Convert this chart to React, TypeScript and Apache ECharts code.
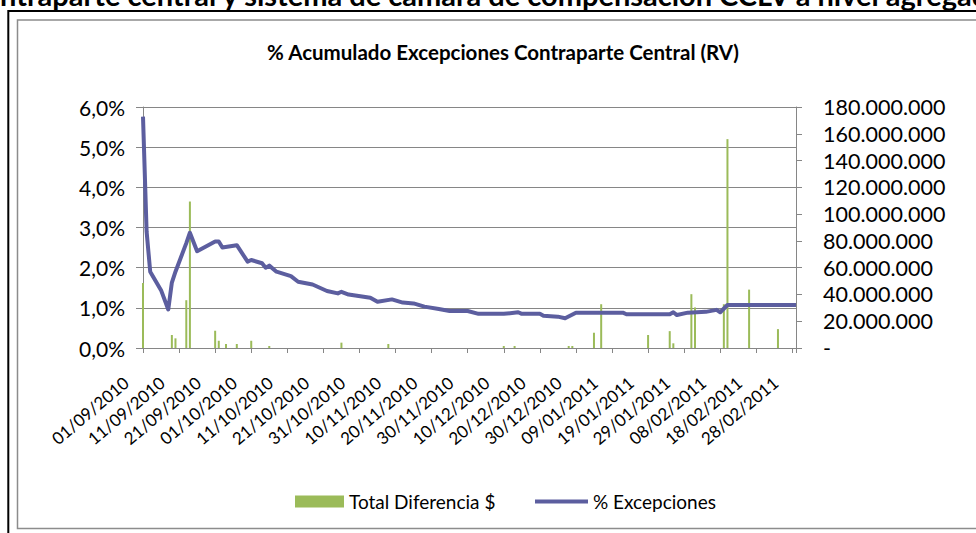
import React, { useEffect, useRef } from 'react';
import * as echarts from 'echarts';

const pageTitle = 'Contraparte central y sistema de cámara de compensación CCLV a nivel agregado';
const chartTitle = '% Acumulado Excepciones Contraparte Central (RV)';
const barName = 'Total Diferencia $';
const lineName = '% Excepciones';
const axisStart = '01/09/2010';
const axisEnd = '01/03/2011';

const barDates = [
  '01/09/2010', '09/09/2010', '10/09/2010', '13/09/2010', '14/09/2010', '21/09/2010', '22/09/2010',
  '24/09/2010', '27/09/2010', '01/10/2010', '06/10/2010', '26/10/2010', '08/11/2010', '10/12/2010',
  '13/12/2010', '28/12/2010', '29/12/2010', '04/01/2011', '06/01/2011', '19/01/2011', '25/01/2011',
  '26/01/2011', '31/01/2011', '01/02/2011', '09/02/2011', '10/02/2011', '16/02/2011', '24/02/2011',
];
const barValues = [
  48600000, 9700000, 7200000, 35700000, 109400000, 12900000, 5400000,
  3000000, 3000000, 5400000, 1500000, 4000000, 3000000, 1500000,
  1500000, 1500000, 1500000, 11400000, 32700000, 9700000, 12600000,
  3500000, 40200000, 30300000, 32700000, 156000000, 43600000, 14100000,
];

const lineDates = [
  '01/09/2010', '02/09/2010', '03/09/2010', '06/09/2010', '08/09/2010', '09/09/2010', '10/09/2010',
  '13/09/2010', '14/09/2010', '16/09/2010', '21/09/2010', '22/09/2010', '23/09/2010', '27/09/2010',
  '30/09/2010', '01/10/2010', '04/10/2010', '05/10/2010', '06/10/2010', '08/10/2010', '12/10/2010',
  '14/10/2010', '18/10/2010', '22/10/2010', '25/10/2010', '26/10/2010', '28/10/2010', '03/11/2010',
  '05/11/2010', '09/11/2010', '12/11/2010', '15/11/2010', '18/11/2010', '22/11/2010', '25/11/2010',
  '30/11/2010', '03/12/2010', '10/12/2010', '14/12/2010', '15/12/2010', '20/12/2010', '21/12/2010',
  '25/12/2010', '27/12/2010', '30/12/2010', '12/01/2011', '13/01/2011', '25/01/2011', '26/01/2011',
  '27/01/2011', '30/01/2011', '04/02/2011', '07/02/2011', '08/02/2011', '10/02/2011', '01/03/2011',
];
const lineValues = [
  5.76, 2.9, 1.9, 1.44, 0.96, 1.63, 1.9,
  2.61, 2.87, 2.41, 2.65, 2.65, 2.5, 2.56,
  2.15, 2.19, 2.11, 2.0, 2.05, 1.9, 1.79,
  1.65, 1.58, 1.42, 1.36, 1.4, 1.33, 1.25,
  1.15, 1.21, 1.13, 1.11, 1.03, 0.97, 0.92,
  0.92, 0.85, 0.85, 0.89, 0.85, 0.85, 0.8,
  0.78, 0.74, 0.88, 0.88, 0.84, 0.84, 0.89,
  0.82, 0.88, 0.9, 0.95, 0.89, 1.07, 1.07,
];

const leftTicks = { min: 0, max: 6, interval: 1 };
const rightTicks = { min: 0, max: 180000000, interval: 20000000 };

const DAY = 86400000;
const parseDate = (s: string) => {
  const [d, m, y] = s.split('/').map(Number);
  return Date.UTC(y, m - 1, d);
};
const t0 = parseDate(axisStart);
const toDay = (s: string) => Math.round((parseDate(s) - t0) / DAY);
const pad = (n: number) => (n < 10 ? '0' + n : '' + n);
const fmtDay = (n: number) => {
  const dt = new Date(t0 + n * DAY);
  return pad(dt.getUTCDate()) + '/' + pad(dt.getUTCMonth() + 1) + '/' + dt.getUTCFullYear();
};
const fmtMoney = (v: number) => (v === 0 ? '-' : String(Math.round(v)).replace(/\B(?=(\d{3})+(?!\d))/g, '.'));
const fmtPct = (v: number) => v.toFixed(1).replace('.', ',') + '%';

const FONT = 'Lato';
const GRID_COLOR = '#868686';
const BAR_COLOR = '#9BBB59';
const LINE_COLOR = '#5C5E9F';

export default function App() {
  const ref = useRef<HTMLDivElement>(null);
  useEffect(() => {
    if (!ref.current) return;
    const chart = echarts.init(ref.current, null, { renderer: 'svg' });

    const titleSize = 29;
    let offset = 33;
    try {
      const ctx = document.createElement('canvas').getContext('2d');
      if (ctx) {
        ctx.font = 'bold ' + titleSize + 'px ' + FONT;
        offset = ctx.measureText('Co').width;
      }
    } catch (e) {}

    const barData = barDates.map((d, i) => [toDay(d), barValues[i]]);
    const lineData = lineDates.map((d, i) => [toDay(d), lineValues[i]]);

    const legendText = { fontSize: 19, color: '#000', fontFamily: FONT };

    chart.setOption({
      animation: false,
      textStyle: { fontFamily: FONT },
      title: {
        text: chartTitle,
        left: 498,
        top: 36,
        textAlign: 'center',
        textStyle: { fontSize: 20.5, fontWeight: 'bold', color: '#000', fontFamily: FONT },
      },
      graphic: [
        {
          type: 'rect',
          silent: true,
          shape: { x: 8.3, y: 11, width: 1100, height: 700 },
          style: { fill: 'none', stroke: '#000', lineWidth: 2 },
        },
        {
          type: 'rect',
          silent: true,
          shape: { x: 17.5, y: 20, width: 1100, height: 508.5 },
          style: { fill: 'none', stroke: '#8C8C8C', lineWidth: 1.5 },
        },
        {
          type: 'text',
          silent: true,
          x: -offset,
          y: -6,
          style: {
            text: pageTitle,
            fontSize: titleSize,
            fontWeight: 'bold',
            fontFamily: FONT,
            fill: '#000',
            textAlign: 'left',
            textVerticalAlign: 'middle',
          },
        },
      ],
      legend: [
        {
          left: 290,
          top: 487,
          itemWidth: 49,
          itemHeight: 12,
          textStyle: legendText,
          data: [{ name: barName, icon: 'rect' }],
        },
        {
          left: 530,
          top: 487,
          itemWidth: 53,
          itemHeight: 4,
          textStyle: legendText,
          data: [{ name: lineName, icon: 'rect' }],
        },
      ],
      grid: { left: 143, right: 180, top: 107, bottom: 185 },
      xAxis: {
        type: 'value',
        min: 0,
        max: toDay(axisEnd),
        interval: 10,
        axisLine: { show: true, onZero: false, lineStyle: { color: GRID_COLOR, width: 1 } },
        axisTick: { show: true, length: 5, lineStyle: { color: GRID_COLOR } },
        splitLine: { show: false },
        axisLabel: {
          rotate: 40,
          margin: 18,
          padding: [0, 22, 0, 0],
          fontSize: 17,
          color: '#000',
          fontFamily: FONT,
          formatter: (v: number) => (v % 10 === 0 ? fmtDay(v) : ''),
        },
      },
      yAxis: [
        {
          type: 'value',
          position: 'left',
          ...leftTicks,
          axisLine: { show: true, lineStyle: { color: GRID_COLOR } },
          axisTick: { show: true, length: 7, lineStyle: { color: GRID_COLOR } },
          splitLine: { show: true, lineStyle: { color: GRID_COLOR, width: 1 } },
          axisLabel: {
            margin: 18,
            fontSize: 21,
            color: '#000',
            fontFamily: FONT,
            padding: [5, 0, 0, 0],
            formatter: fmtPct,
          },
        },
        {
          type: 'value',
          position: 'right',
          ...rightTicks,
          axisLine: { show: true, lineStyle: { color: GRID_COLOR } },
          axisTick: { show: true, length: 6, lineStyle: { color: GRID_COLOR } },
          splitLine: { show: false },
          axisLabel: {
            margin: 27,
            fontSize: 21.5,
            color: '#000',
            fontFamily: FONT,
            padding: [7, 0, 0, 0],
            formatter: fmtMoney,
          },
        },
      ],
      series: [
        {
          name: barName,
          type: 'bar',
          yAxisIndex: 1,
          barWidth: 2,
          itemStyle: { color: BAR_COLOR },
          data: barData,
          z: 2,
        },
        {
          name: lineName,
          type: 'line',
          yAxisIndex: 0,
          symbol: 'none',
          lineStyle: { color: LINE_COLOR, width: 4, join: 'round' },
          itemStyle: { color: LINE_COLOR },
          data: lineData,
          z: 3,
        },
      ],
    });
    return () => chart.dispose();
  }, []);

  return (
    <div
      ref={ref}
      style={{ position: 'absolute', left: 0, top: 0, width: 976, height: 533, background: '#fff' }}
    />
  );
}
